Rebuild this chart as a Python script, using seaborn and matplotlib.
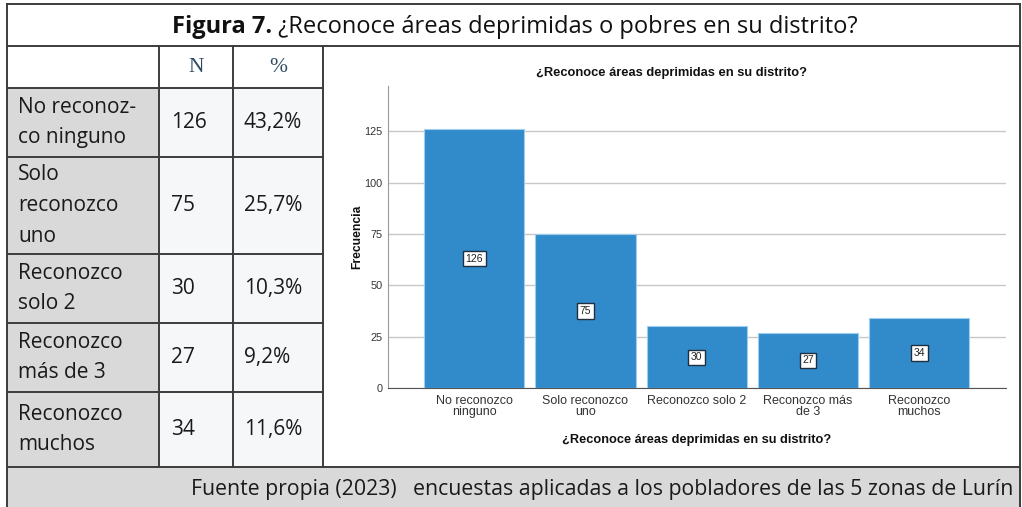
import matplotlib
matplotlib.use("Agg")
import matplotlib.pyplot as plt
from matplotlib.patches import Rectangle
import seaborn as sns
import pandas as pd

# ---- data ----
categories = ["No reconozco\nninguno", "Solo reconozco\nuno", "Reconozco solo 2",
              "Reconozco más\nde 3", "Reconozco\nmuchos"]
counts = [126, 75, 30, 27, 34]
table_labels = ["No reconoz-\nco ninguno", "Solo\nreconozco\nuno", "Reconozco\nsolo 2",
                "Reconozco\nmás de 3", "Reconozco\nmuchos"]
table_n = ["126", "75", "30", "27", "34"]
table_pct = ["43,2%", "25,7%", "10,3%", "9,2%", "11,6%"]
y_ticks = [0, 25, 50, 75, 100, 125]
title_bold = "Figura 7."
title_rest = "¿Reconoce áreas deprimidas o pobres en su distrito?"
chart_title = "¿Reconoce áreas deprimidas en su distrito?"
y_label = "Frecuencia"
footer = "Fuente propia (2023)   encuestas aplicadas a los pobladores de las 5 zonas de Lurín"

W, H = 1022, 507
fig = plt.figure(figsize=(W / 100, H / 100), dpi=100)
fig.patch.set_facecolor("white")

# ---- table overlay in pixel coordinates ----
ov = fig.add_axes([0, 0, 1, 1])
ov.set_xlim(0, W)
ov.set_ylim(H, 0)
ov.axis("off")

TF = ["Open Sans", "DejaVu Sans"]
gray = "#d9d9d9"
light = "#f6f7f9"
line_c = "#3c3c3c"
lw = 1.4
FS = 15

L, R, T = 7, 1020, 4
x_c = [L, 159, 233, 323]
row_y = [88, 157, 254, 323, 392, 467]

# backgrounds
for i in range(5):
    y0, y1 = row_y[i], row_y[i + 1]
    ov.add_patch(Rectangle((x_c[0], y0), x_c[1] - x_c[0], y1 - y0, facecolor=gray, edgecolor="none"))
    ov.add_patch(Rectangle((x_c[1], y0), x_c[3] - x_c[1], y1 - y0, facecolor=light, edgecolor="none"))
ov.add_patch(Rectangle((L, 467), R - L, H - 467 + 2, facecolor=gray, edgecolor="none"))

# lines
ov.plot([L, R], [T, T], color=line_c, lw=lw)
ov.plot([L, L], [T, H + 2], color=line_c, lw=lw)
ov.plot([R, R], [T, H + 2], color=line_c, lw=lw)
ov.plot([L, R], [46, 46], color=line_c, lw=lw)
ov.plot([L, R], [467, 467], color=line_c, lw=lw)
for xc in x_c[1:]:
    ov.plot([xc, xc], [46, 467], color=line_c, lw=lw)
for yy in [88, 157, 254, 323, 392]:
    ov.plot([x_c[0], x_c[3]], [yy, yy], color=line_c, lw=lw)

# header texts
ov.text(196, 68, "N", ha="center", va="center", fontsize=15.5, family="Liberation Serif", color="#2f4b66")
ov.text(278, 68, "%", ha="center", va="center", fontsize=15.5, family="Liberation Serif", color="#2f4b66")

for i in range(5):
    yc = (row_y[i] + row_y[i + 1]) / 2
    ov.text(18, yc, table_labels[i], ha="left", va="center", fontsize=FS, family=TF,
            color="#1a1a1a", linespacing=1.62)
    ov.text(171, yc, table_n[i], ha="left", va="center", fontsize=FS, family=TF, color="#1a1a1a")
    ov.text(244, yc, table_pct[i], ha="left", va="center", fontsize=FS, family=TF, color="#1a1a1a")

ov.text(1013, 489, footer, ha="right", va="center", fontsize=15.3, family=TF, color="#1a1a1a")

# title: bold + regular, centered as a unit
t1 = ov.text(0, 27, title_bold, ha="left", va="center", fontsize=17, family=TF,
             fontweight="bold", color="#111111")
t2 = ov.text(0, 27, " " + title_rest, ha="left", va="center", fontsize=17, family=TF,
             color="#111111")
fig.canvas.draw()
r = fig.canvas.get_renderer()
w1 = t1.get_window_extent(r).width
w2 = t2.get_window_extent(r).width
start = 515 - (w1 + w2) / 2
t1.set_x(start)
t2.set_x(start + w1)

# ---- bar chart ----
CF = ["Liberation Sans Narrow", "Liberation Sans", "DejaVu Sans"]
ax_l, ax_r, ax_t, ax_b = 388, 1006, 86, 388
ax = fig.add_axes([ax_l / W, (H - ax_b) / H, (ax_r - ax_l) / W, (ax_b - ax_t) / H])
ax.patch.set_alpha(0)

df = pd.DataFrame({"cat": categories, "n": counts})
sns.barplot(data=df, x="cat", y="n", ax=ax, color="#318bcb", width=0.9,
            edgecolor="#9fcdee", linewidth=0.8, saturation=1, zorder=3)

ax.set_xlim(-0.775, 4.78)
ax.set_ylim(0, 147)
ax.set_yticks(y_ticks)
ax.yaxis.grid(True, color="#c8c8c8", lw=1)
ax.xaxis.grid(False)
ax.set_axisbelow(True)
for s in ["top", "right"]:
    ax.spines[s].set_visible(False)
ax.spines["left"].set_color("#9a9a9a")
ax.spines["bottom"].set_color("#555555")
ax.tick_params(axis="both", length=0)
ax.tick_params(axis="y", pad=4)
ax.tick_params(axis="x", pad=5)
for lab in ax.get_yticklabels():
    lab.set_fontsize(7.8)
    lab.set_family(CF)
    lab.set_color("#333333")
for lab in ax.get_xticklabels():
    lab.set_fontsize(9)
    lab.set_family(CF)
    lab.set_color("#333333")
    lab.set_linespacing(0.95)

ax.set_xlabel(chart_title, fontsize=9.2, fontweight="bold", family=CF, color="#111111", labelpad=11)
ax.set_ylabel(y_label, fontsize=8.7, fontweight="bold", family=CF, color="#111111", labelpad=1)

for i, v in enumerate(counts):
    ax.text(i, v / 2, str(v), ha="center", va="center", fontsize=7.5, family=CF, color="#222222",
            zorder=5, bbox=dict(boxstyle="square,pad=0.25", facecolor="white", edgecolor="#1f2f3f", lw=1))

fig.text(672 / W, 1 - 73 / H, chart_title, ha="center", va="center", fontsize=9.3,
         fontweight="bold", family=CF, color="#111111")

fig.savefig("out.png", dpi=100, facecolor="white")
